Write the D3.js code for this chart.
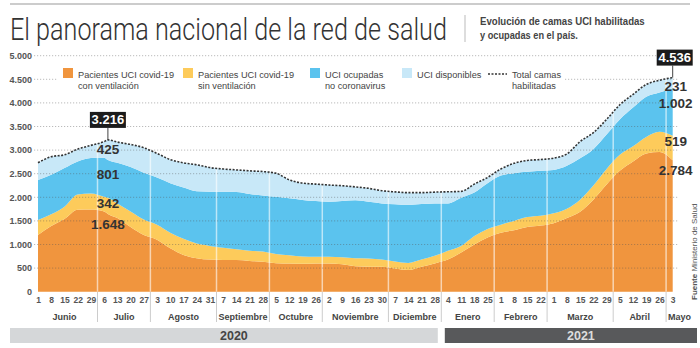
<!DOCTYPE html>
<html>
<head>
<meta charset="utf-8">
<script src="https://cdn.jsdelivr.net/npm/d3@7"></script>
<style>
  body { margin: 0; background: #fff; }
  svg { display: block; }
  text { font-family: 'Liberation Sans Narrow', 'Arial Narrow', sans-serif; }
</style>
</head>
<body>
<div id="chart"></div>
<script>
// fechas semanales (lunes) + el pico del 8 de julio
const fechas = ["2020-06-01","2020-06-08","2020-06-15","2020-06-22","2020-06-29","2020-07-06","2020-07-08","2020-07-13","2020-07-20","2020-07-27",
  "2020-08-03","2020-08-10","2020-08-17","2020-08-24","2020-08-31","2020-09-07","2020-09-14","2020-09-21","2020-09-28","2020-10-05",
  "2020-10-12","2020-10-19","2020-10-26","2020-11-02","2020-11-09","2020-11-16","2020-11-23","2020-11-30","2020-12-07","2020-12-14",
  "2020-12-21","2020-12-28","2021-01-04","2021-01-11","2021-01-18","2021-01-25","2021-02-01","2021-02-08","2021-02-15","2021-02-22",
  "2021-03-01","2021-03-08","2021-03-15","2021-03-22","2021-03-29","2021-04-05","2021-04-12","2021-04-19","2021-04-26","2021-05-03"];

const conVentilacion = [1200,1390,1540,1735,1740,1700,1648,1560,1370,1200,
  1100,920,780,710,680,670,670,650,635,605,
  595,590,595,600,580,540,530,530,490,460,
  530,600,680,830,1000,1150,1250,1300,1370,1400,
  1450,1560,1695,1950,2270,2560,2760,2930,2960,2784];

const sinVentilacion = [320,250,260,325,340,310,342,310,330,330,
  320,330,340,310,290,260,230,220,215,195,
  175,155,145,140,150,170,175,150,150,150,
  150,160,190,140,180,180,170,200,210,210,
  210,200,255,300,330,340,320,350,430,519];

const ocupadasNoCovid = [846,840,820,700,750,830,801,860,940,990,
  1000,1050,1090,1110,1150,1190,1210,1200,1190,1210,
  1210,1200,1180,1165,1190,1225,1200,1190,1215,1230,
  1180,1110,1000,1020,920,970,1040,1010,960,950,
  920,910,876,770,730,750,820,850,830,1002];

const disponibles = [367,380,280,260,270,340,425,440,480,530,
  510,500,520,560,510,480,470,490,505,500,
  390,355,360,355,325,285,285,270,260,258,
  238,240,247,135,180,120,140,210,240,240,
  250,250,354,350,320,310,280,260,260,231];

const meses = ["Junio","Julio","Agosto","Septiembre","Octubre","Noviembre","Diciembre","Enero","Febrero","Marzo","Abril","Mayo"];
const anios = ["2020","2021"];
const yTicks = [0,500,1000,1500,2000,2500,3000,3500,4000,4500,5000];
const leyenda = [
  ["Pacientes UCI covid-19","con ventilación"],
  ["Pacientes UCI covid-19","sin ventilación"],
  ["UCI ocupadas","no coronavirus"],
  ["UCI disponibles"],
  ["Total camas","habilitadas"]
];
const destacados = ["2020-07-08","2021-05-03"];

const colores = ["#f0953e","#fdcb5b","#5bc3ee","#c8e8f8"];
const claves = ["con","sin","ocu","disp"];

const fmt = d3.formatLocale({decimal: ",", thousands: ".", grouping: [3], currency: ["$",""]}).format(",d");
const parse = d3.timeParse("%Y-%m-%d");

const data = fechas.map((f, i) => ({
  fecha: parse(f), con: conVentilacion[i], sin: sinVentilacion[i], ocu: ocupadasNoCovid[i], disp: disponibles[i]
}));
const series = d3.stack().keys(claves)(data);

const svg = d3.select("#chart").append("svg").attr("width", 700).attr("height", 348);

const x = d3.scaleTime().domain(d3.extent(data, d => d.fecha)).range([38, 672.7]);
const y = d3.scaleLinear().domain([0, 5000]).range([291.7, 55.7]);

// cabecera
svg.append("line").attr("x1", 10).attr("x2", 690).attr("y1", 4).attr("y2", 4)
   .attr("stroke", "#bbb").attr("stroke-width", 1.5);
const titulo = svg.append("text")
   .style("font-family", "Roboto").style("font-weight", 300).style("font-size", "31px").attr("fill", "#333")
   .text("El panorama nacional de la red de salud");
const anchoTitulo = titulo.node().getComputedTextLength();
titulo.attr("transform", `translate(10,40) scale(${437 / anchoTitulo},1)`);

svg.append("line").attr("x1", 465).attr("x2", 465).attr("y1", 15).attr("y2", 42).attr("stroke", "#bbb");
const sub = [["Evolución de camas UCI habilitadas", 25, 165], ["y ocupadas en el país.", 38.5, 98]];
sub.forEach(s => {
  const t = svg.append("text")
     .style("font-weight", "bold").style("font-size", "10.5px").attr("fill", "#444").text(s[0]);
  t.attr("transform", `translate(480,${s[1]}) scale(${s[2] / t.node().getComputedTextLength()},1)`);
});

// areas apiladas
const area = d3.area().curve(d3.curveMonotoneX)
   .x(d => x(d.data.fecha)).y0(d => y(d[0])).y1(d => y(d[1]));

svg.append("g").selectAll("path").data(series).enter().append("path")
   .attr("d", area).attr("fill", (d, i) => colores[i]);

// semanas y separadores de mes
const lunes = d3.timeMonday.range(x.domain()[0], d3.timeDay.offset(x.domain()[1], 1));
const grupos = d3.groups(lunes, d => d.getFullYear() * 12 + d.getMonth());
const medio = 3.5 * 24 * 3600 * 1000;
const sep = grupos.slice(1).map(g => x(new Date(g[1][0].getTime() - medio)));

const clipArea = d3.area().curve(d3.curveMonotoneX)
   .x(d => x(d.data.fecha)).y0(y(0)).y1(d => y(d[1]));
svg.append("clipPath").attr("id", "clipTotal").append("path")
   .attr("d", clipArea(series[series.length - 1]));

svg.append("g").attr("clip-path", "url(#clipTotal)").selectAll("line").data(sep).enter().append("line")
   .attr("x1", d => d).attr("x2", d => d).attr("y1", y(0)).attr("y2", y(5000))
   .attr("stroke", "#fff").attr("stroke-opacity", 0.6).attr("stroke-width", 1.5);

// grilla
svg.append("g").selectAll("line").data(yTicks.slice(1)).enter().append("line")
   .attr("x1", 34).attr("x2", 678).attr("y1", d => y(d)).attr("y2", d => y(d))
   .attr("stroke", "#555").attr("stroke-opacity", 0.4).attr("stroke-width", 1).attr("stroke-dasharray", "1.2,1.8");

// linea total
const lineaTotal = d3.line().curve(d3.curveMonotoneX)
   .x(d => x(d.data.fecha)).y(d => y(d[1]));
svg.append("path").datum(series[series.length - 1]).attr("d", lineaTotal)
   .attr("fill", "none").attr("stroke", "#333").attr("stroke-width", 1.6).attr("stroke-dasharray", "2,1.5");

// eje y
const ejeY = svg.append("g").attr("transform", "translate(32,0)")
   .call(d3.axisLeft(y).tickValues(yTicks).tickFormat(fmt).tickSize(0).tickPadding(0));
ejeY.select(".domain").remove();
ejeY.selectAll("text").style("font-family", "'Liberation Sans Narrow', sans-serif")
   .style("font-size", "9px").style("font-weight", "bold").attr("fill", "#555");

// eje x
const ejeX = svg.append("g").attr("transform", "translate(0,297)")
   .call(d3.axisBottom(x).tickValues(lunes).tickFormat(d3.timeFormat("%-d")).tickSize(0).tickPadding(0));
ejeX.select(".domain").remove();
ejeX.selectAll("text").style("font-family", "'Liberation Sans Narrow', sans-serif")
   .style("font-size", "8.5px").style("font-weight", "bold").attr("fill", "#555");

svg.append("g").selectAll("line").data(sep).enter().append("line")
   .attr("x1", d => d).attr("x2", d => d).attr("y1", 292).attr("y2", 322)
   .attr("stroke", "#ccc").attr("stroke-width", 1);

grupos.forEach((g, i) => {
  const a = x(new Date(g[1][0].getTime() - medio));
  const b = x(new Date(g[1][g[1].length - 1].getTime() + medio));
  const unico = g[1].length === 1;
  svg.append("text").attr("x", unico ? a + 2 : (a + b) / 2).attr("y", 319.5)
     .attr("text-anchor", unico ? "start" : "middle")
     .style("font-size", "9px").style("font-weight", "bold").attr("fill", "#444")
     .text(meses[i]);
});

// franjas de años
const corte = sep[6];
const franjas = [[10, corte - 3.5, "#d5d7d9", "#444"], [corte + 3.5, 697, "#58595b", "#ddd"]];
franjas.forEach((f, i) => {
  svg.append("rect").attr("x", f[0]).attr("y", 328).attr("width", f[1] - f[0]).attr("height", 15).attr("fill", f[2]);
  svg.append("text").attr("x", (f[0] + f[1]) / 2 + 10).attr("y", 340).attr("text-anchor", "middle")
     .style("font-size", "12.5px").style("font-weight", "bold").attr("fill", f[3]).text(anios[i]);
});

// leyenda
svg.append("rect").attr("x", 57).attr("y", 63).attr("width", 508).attr("height", 29).attr("fill", "#fff");
const posLeyenda = [63, 183, 310, 402, 488];
leyenda.forEach((l, i) => {
  const g = svg.append("g").attr("transform", `translate(${posLeyenda[i]},0)`);
  let tx = 15;
  if (i < 4) {
    g.append("rect").attr("x", 0).attr("y", 68).attr("width", 10).attr("height", 10).attr("fill", colores[i]);
  } else {
    g.append("line").attr("x1", 0).attr("x2", 19).attr("y1", 74).attr("y2", 74)
     .attr("stroke", "#333").attr("stroke-width", 1.6).attr("stroke-dasharray", "2,1.5");
    tx = 24;
  }
  l.forEach((t, j) => {
    g.append("text").attr("x", tx).attr("y", 78 + j * 10.5)
     .style("font-size", "9.2px").attr("fill", "#444").text(t);
  });
});

// anotaciones
const desplaz = [10.5, 6, 14.5, 9];
destacados.forEach((f, k) => {
  const i = fechas.indexOf(f);
  const px = x(data[i].fecha);
  const total = series[3][i][1];
  const py = y(total);
  const bx = k === 0 ? px : px + 2;
  svg.append("line").attr("x1", px).attr("x2", px).attr("y1", py - 12).attr("y2", py)
     .attr("stroke", "#444").attr("stroke-width", 1);
  svg.append("rect").attr("x", bx - 18).attr("y", py - 28).attr("width", 36).attr("height", 16).attr("fill", "#1b1b1b");
  svg.append("text").attr("x", bx).attr("y", py - 15.5).attr("text-anchor", "middle")
     .style("font-size", "13px").style("font-weight", "bold").attr("fill", "#fff").text(fmt(total));
  series.forEach((s, j) => {
    svg.append("text").attr("x", k === 0 ? px : px + 3).attr("y", y(s[i][1]) + desplaz[j] + 4.7)
       .attr("text-anchor", "middle")
       .style("font-size", "13.5px").style("font-weight", "bold").attr("fill", "#333")
       .text(fmt(s[i][1] - s[i][0]));
  });
});

// fuente
const fuente = svg.append("text").attr("transform", "translate(697,300) rotate(-90)")
   .style("font-size", "8px").attr("fill", "#555");
fuente.append("tspan").style("font-weight", "bold").text("Fuente ");
fuente.append("tspan").text("Ministerio de Salud");
</script>
</body>
</html>
